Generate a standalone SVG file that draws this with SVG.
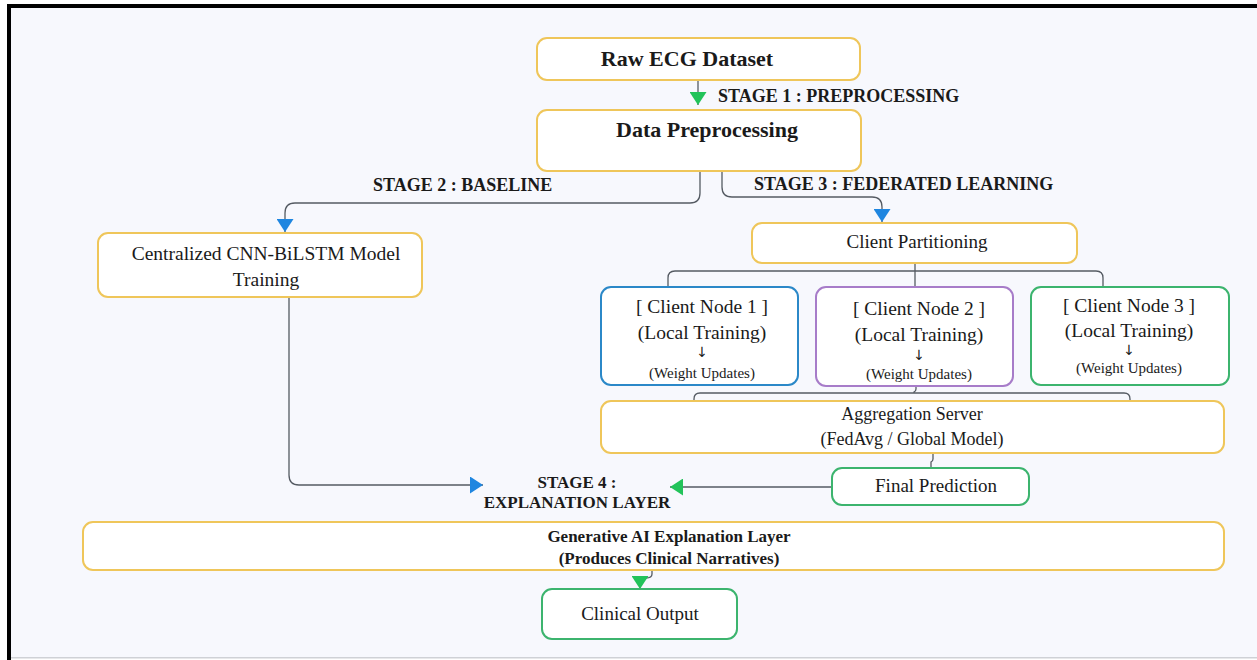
<svg xmlns="http://www.w3.org/2000/svg" width="1257" height="660" viewBox="0 0 1257 660">
<defs>
<style>
.box{fill:#ffffff;stroke-width:2}
.y{stroke:#efc65a}
.b{stroke:#2b88c8}
.p{stroke:#a77cc9}
.g{stroke:#3cb46e}
.t{font-family:"Liberation Serif","Times New Roman",serif;fill:#1a1a1a;text-anchor:middle}
.arr{font-family:"DejaVu Sans",sans-serif;fill:#1a1a1a;text-anchor:middle}
.bold{font-weight:bold}
.lbl{font-family:"Liberation Serif","Times New Roman",serif;font-weight:bold;fill:#1a1a1a}
.c{fill:none;stroke:#555b63;stroke-width:1.3}
</style>
<marker id="ag" viewBox="0 0 13 17" markerWidth="13" markerHeight="17" refX="13" refY="8.5" orient="auto" markerUnits="userSpaceOnUse"><path d="M0,0 L13,8.5 L0,17 z" fill="#22c35a"/></marker>
<marker id="ab" viewBox="0 0 13 17" markerWidth="13" markerHeight="17" refX="13" refY="8.5" orient="auto" markerUnits="userSpaceOnUse"><path d="M0,0 L13,8.5 L0,17 z" fill="#1f86e0"/></marker>
</defs>
<rect x="0" y="0" width="1257" height="660" fill="#ffffff"/>
<rect x="11" y="8" width="1246" height="650" fill="#f7f8fd"/>
<rect x="7" y="4" width="1250" height="4" fill="#000000"/>
<rect x="7" y="4" width="4" height="656" fill="#000000"/>
<rect x="11" y="657" width="1246" height="1.5" fill="#cfd1d6"/>

<g id="connectors">
<path class="c" d="M698,80 V105" marker-end="url(#ag)"/>
<path class="c" d="M700,171 V193 Q700,203 690,203 H295 Q285,203 285,213 V232" marker-end="url(#ab)"/>
<path class="c" d="M722,171 V187 Q722,197 732,197 H872 Q882,197 882,207 V222" marker-end="url(#ab)"/>
<path class="c" d="M915,263 V287"/>
<path class="c" d="M668,287 V278 Q668,271 675,271 H1096 Q1103,271 1103,278 V287"/>
<path class="c" d="M694,401 V399 Q694,393 700,393 H1124 Q1130,393 1130,399 V401"/>
<path class="c" d="M916,386 V389 Q916,391 914,392 V393"/>
<path class="c" d="M933,453 V459 Q933,461 931,462 V468"/>
<path class="c" d="M832,487 H670" marker-end="url(#ag)"/>
<path class="c" d="M289,297 V475 Q289,485 299,485 H483" marker-end="url(#ab)"/>
<path class="c" d="M652,570 V574 Q652,578 646,578 Q640,578 640,581 V589" marker-end="url(#ag)"/>
</g>

<g id="stage-labels">
<text class="lbl" x="718" y="102" font-size="18">STAGE 1 : PREPROCESSING</text>
<text class="lbl" x="373" y="191" font-size="18">STAGE 2 : BASELINE</text>
<text class="lbl" x="754" y="190" font-size="18">STAGE 3 : FEDERATED LEARNING</text>
<text class="lbl" x="577" y="488" font-size="17" text-anchor="middle">STAGE 4 :</text>
<text class="lbl" x="577" y="508" font-size="17" text-anchor="middle">EXPLANATION LAYER</text>
</g>

<g id="raw-ecg">
<rect class="box y" x="537" y="38" width="323" height="42" rx="10"/>
<text class="t bold" x="687" y="66" font-size="22">Raw ECG Dataset</text>
</g>

<g id="data-preprocessing">
<rect class="box y" x="537" y="110" width="324" height="61" rx="10"/>
<text class="t bold" x="707" y="137" font-size="22">Data Preprocessing</text>
</g>

<g id="centralized">
<rect class="box y" x="98" y="233" width="324" height="64" rx="10"/>
<text class="t" x="266" y="260" font-size="19.5">Centralized CNN-BiLSTM Model</text>
<text class="t" x="266" y="286" font-size="19.5">Training</text>
</g>

<g id="client-partitioning">
<rect class="box y" x="752" y="223" width="325" height="40" rx="10"/>
<text class="t" x="917" y="248" font-size="19">Client Partitioning</text>
</g>

<g id="client-node-1">
<rect class="box b" x="601" y="287" width="197" height="98" rx="10"/>
<text class="t" x="702" y="313" font-size="19.5">[ Client Node 1 ]</text>
<text class="t" x="702" y="339" font-size="19.5">(Local Training)</text>
<text class="arr" x="702" y="357" font-size="14">↓</text>
<text class="t" x="702" y="378" font-size="15">(Weight Updates)</text>
</g>

<g id="client-node-2">
<rect class="box p" x="816" y="287" width="197" height="99" rx="10"/>
<text class="t" x="919" y="315" font-size="19.5">[ Client Node 2 ]</text>
<text class="t" x="919" y="341" font-size="19.5">(Local Training)</text>
<text class="arr" x="919" y="360" font-size="14">↓</text>
<text class="t" x="919" y="379" font-size="15">(Weight Updates)</text>
</g>

<g id="client-node-3">
<rect class="box g" x="1031" y="287" width="198" height="98" rx="10"/>
<text class="t" x="1129" y="312" font-size="19.5">[ Client Node 3 ]</text>
<text class="t" x="1129" y="337" font-size="19.5">(Local Training)</text>
<text class="arr" x="1129" y="355" font-size="14">↓</text>
<text class="t" x="1129" y="373" font-size="15">(Weight Updates)</text>
</g>

<g id="aggregation-server">
<rect class="box y" x="601" y="401" width="623" height="52" rx="10"/>
<text class="t" x="912" y="420" font-size="18">Aggregation Server</text>
<text class="t" x="912" y="445" font-size="18">(FedAvg / Global Model)</text>
</g>

<g id="final-prediction">
<rect class="box g" x="832" y="468" width="197" height="37" rx="10"/>
<text class="t" x="936" y="492" font-size="19">Final Prediction</text>
</g>

<g id="generative-ai">
<rect class="box y" x="83" y="522" width="1141" height="48" rx="10"/>
<text class="t bold" x="669" y="542" font-size="17">Generative AI Explanation Layer</text>
<text class="t bold" x="669" y="564" font-size="17">(Produces Clinical Narratives)</text>
</g>

<g id="clinical-output">
<rect class="box g" x="542" y="589" width="195" height="50" rx="10"/>
<text class="t" x="640" y="620" font-size="19">Clinical Output</text>
</g>
</svg>
